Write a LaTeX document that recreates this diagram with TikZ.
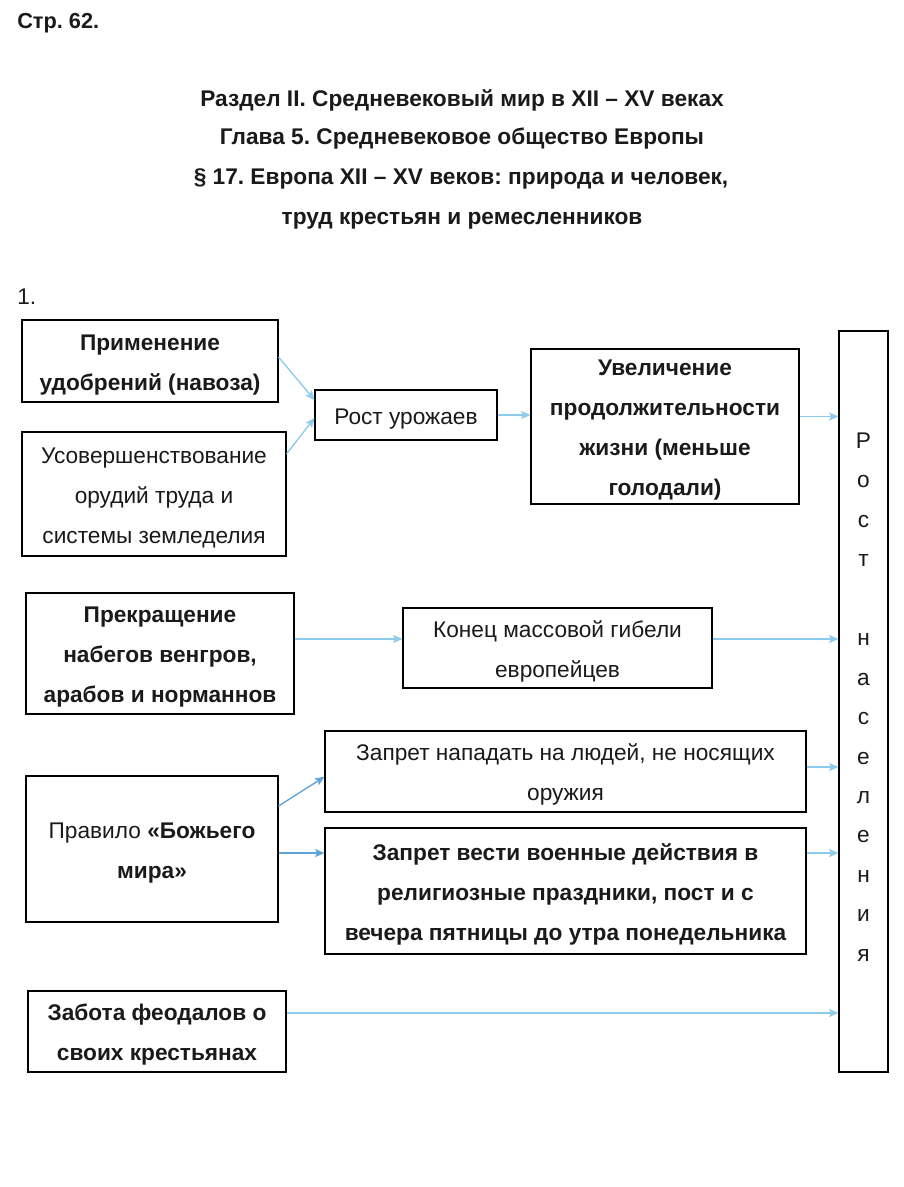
\documentclass[tikz,border=0pt]{standalone}
\usepackage{fontspec}
\setmainfont{Liberation Sans}
\usetikzlibrary{arrows.meta}
\frenchspacing
\definecolor{arr}{HTML}{8CCBEB}
\definecolor{arrd}{HTML}{5EA3D9}
\definecolor{ink}{HTML}{1A1A1A}
\newcommand\tst{\rule{0pt}{17.5pt}}
\newcommand\bst{\rule[-4pt]{0pt}{4pt}}
\begin{document}
\begin{tikzpicture}[x=0.75pt,y=-0.75pt,
  txt/.style={font=\fontsize{17}{30}\selectfont, text=ink, align=center, inner sep=0pt},
  btxt/.style={font=\bfseries\fontsize{17}{30}\selectfont},
  htxt/.style={txt, font=\bfseries\fontsize{17}{20}\selectfont, text height=12.5pt, text depth=3.6pt},
  box/.style={txt, draw=black, line width=0.8pt},
  conn/.style={draw=arr, line width=1pt, -{Stealth[length=7pt,width=6pt,inset=1.5pt]}},
  connd/.style={conn, draw=arrd}]
\useasboundingbox[fill=white] (0,0) rectangle (903,1187);
% headers
\node[htxt, font=\bfseries\fontsize{16.3}{20}\selectfont, anchor=west] (page) at (17,23) {Стр. 62.};
\node[htxt] (h1) at (462,101) {Раздел II. Средневековый мир в XII – XV веках};
\node[htxt] (h2) at (462,139) {Глава 5. Средневековое общество Европы};
\node[htxt] (h3) at (461,179) {§ 17. Европа XII – XV веков: природа и человек,};
\node[htxt] (h4) at (462,219) {труд крестьян и ремесленников};
\node[txt, font=\fontsize{17}{20}\selectfont, anchor=west, text height=12.5pt, text depth=3.6pt] (num) at (17,299) {1.};
% boxes
\node[box, btxt, minimum width=192pt, minimum height=61.5pt] (b1) at (150,361) {\tst Применение\\удобрений (навоза)\bst};
\node[box, minimum width=198pt, minimum height=93pt] (b2) at (154,494) {\tst Усовершенствование\\орудий труда и\\системы земледелия\bst};
\node[box, minimum width=136.5pt, minimum height=37.5pt] (b3) at (406,415) {\tst Рост урожаев\bst};
\node[box, btxt, minimum width=201pt, minimum height=116.25pt] (b4) at (665,426.5) {\tst Увеличение\\продолжительности\\жизни (меньше\\голодали)\bst};
\node[draw=black, line width=0.8pt, minimum width=36.75pt, minimum height=555.75pt, inner sep=0pt] (tall) at (863.5,701.5) {};
\node[txt, font=\fontsize{17}{29.6}\selectfont] (tallt) at (863.5,697) {Р\\о\\с\\т\\\mbox{}\\н\\а\\с\\е\\л\\е\\н\\и\\я};
\node[box, btxt, minimum width=201pt, minimum height=90.75pt] (b6) at (160,653.5) {\tst Прекращение\\набегов венгров,\\арабов и норманнов\bst};
\node[box, minimum width=231.75pt, minimum height=60pt] (b7) at (557.5,648) {\tst Конец массовой гибели\\европейцев\bst};
\node[box, minimum width=189pt, minimum height=109.5pt] (b8) at (152,849) {\tst Правило \textbf{«Божьего}\\\textbf{мира»}\bst};
\node[box, minimum width=360.75pt, minimum height=60.75pt] (b9) at (565.5,771.5) {\tst Запрет нападать на людей, не носящих\\оружия\bst};
\node[box, btxt, minimum width=360.75pt, minimum height=94.5pt] (b10) at (565.5,891) {\tst Запрет вести военные действия в\\религиозные праздники, пост и с\\вечера пятницы до утра понедельника\bst};
\node[box, btxt, minimum width=193.5pt, minimum height=60.75pt] (b11) at (157,1031.5) {\tst Забота феодалов о\\своих крестьянах\bst};
% connectors
\draw[conn] ([yshift=3pt]b1.east) -- ([yshift=11.25pt]b3.west);
\draw[conn] ([yshift=30pt]b2.east) -- ([yshift=-2.25pt]b3.west);
\draw[conn] (b3.east) -- (b3.east -| b4.west);
\draw[conn] ([yshift=7.5pt]b4.east) -- ([yshift=7.5pt]b4.east -| tall.west);
\draw[conn] ([yshift=10.9pt]b6.east) -- ([yshift=10.9pt]b6.east -| b7.west);
\draw[conn] ([yshift=6.75pt]b7.east) -- ([yshift=6.75pt]b7.east -| tall.west);
\draw[connd] ([yshift=32.25pt]b8.east) -- ([yshift=-4pt]b9.west);
\draw[connd] ([yshift=28.5pt]b10.west -| b8.east) -- ([yshift=28.5pt]b10.west);
\draw[conn] ([yshift=3.4pt]b9.east) -- ([yshift=3.4pt]b9.east -| tall.west);
\draw[conn] ([yshift=28.5pt]b10.east) -- ([yshift=28.5pt]b10.east -| tall.west);
\draw[conn] ([yshift=13.9pt]b11.east) -- ([yshift=13.9pt]b11.east -| tall.west);
\end{tikzpicture}
\end{document}
